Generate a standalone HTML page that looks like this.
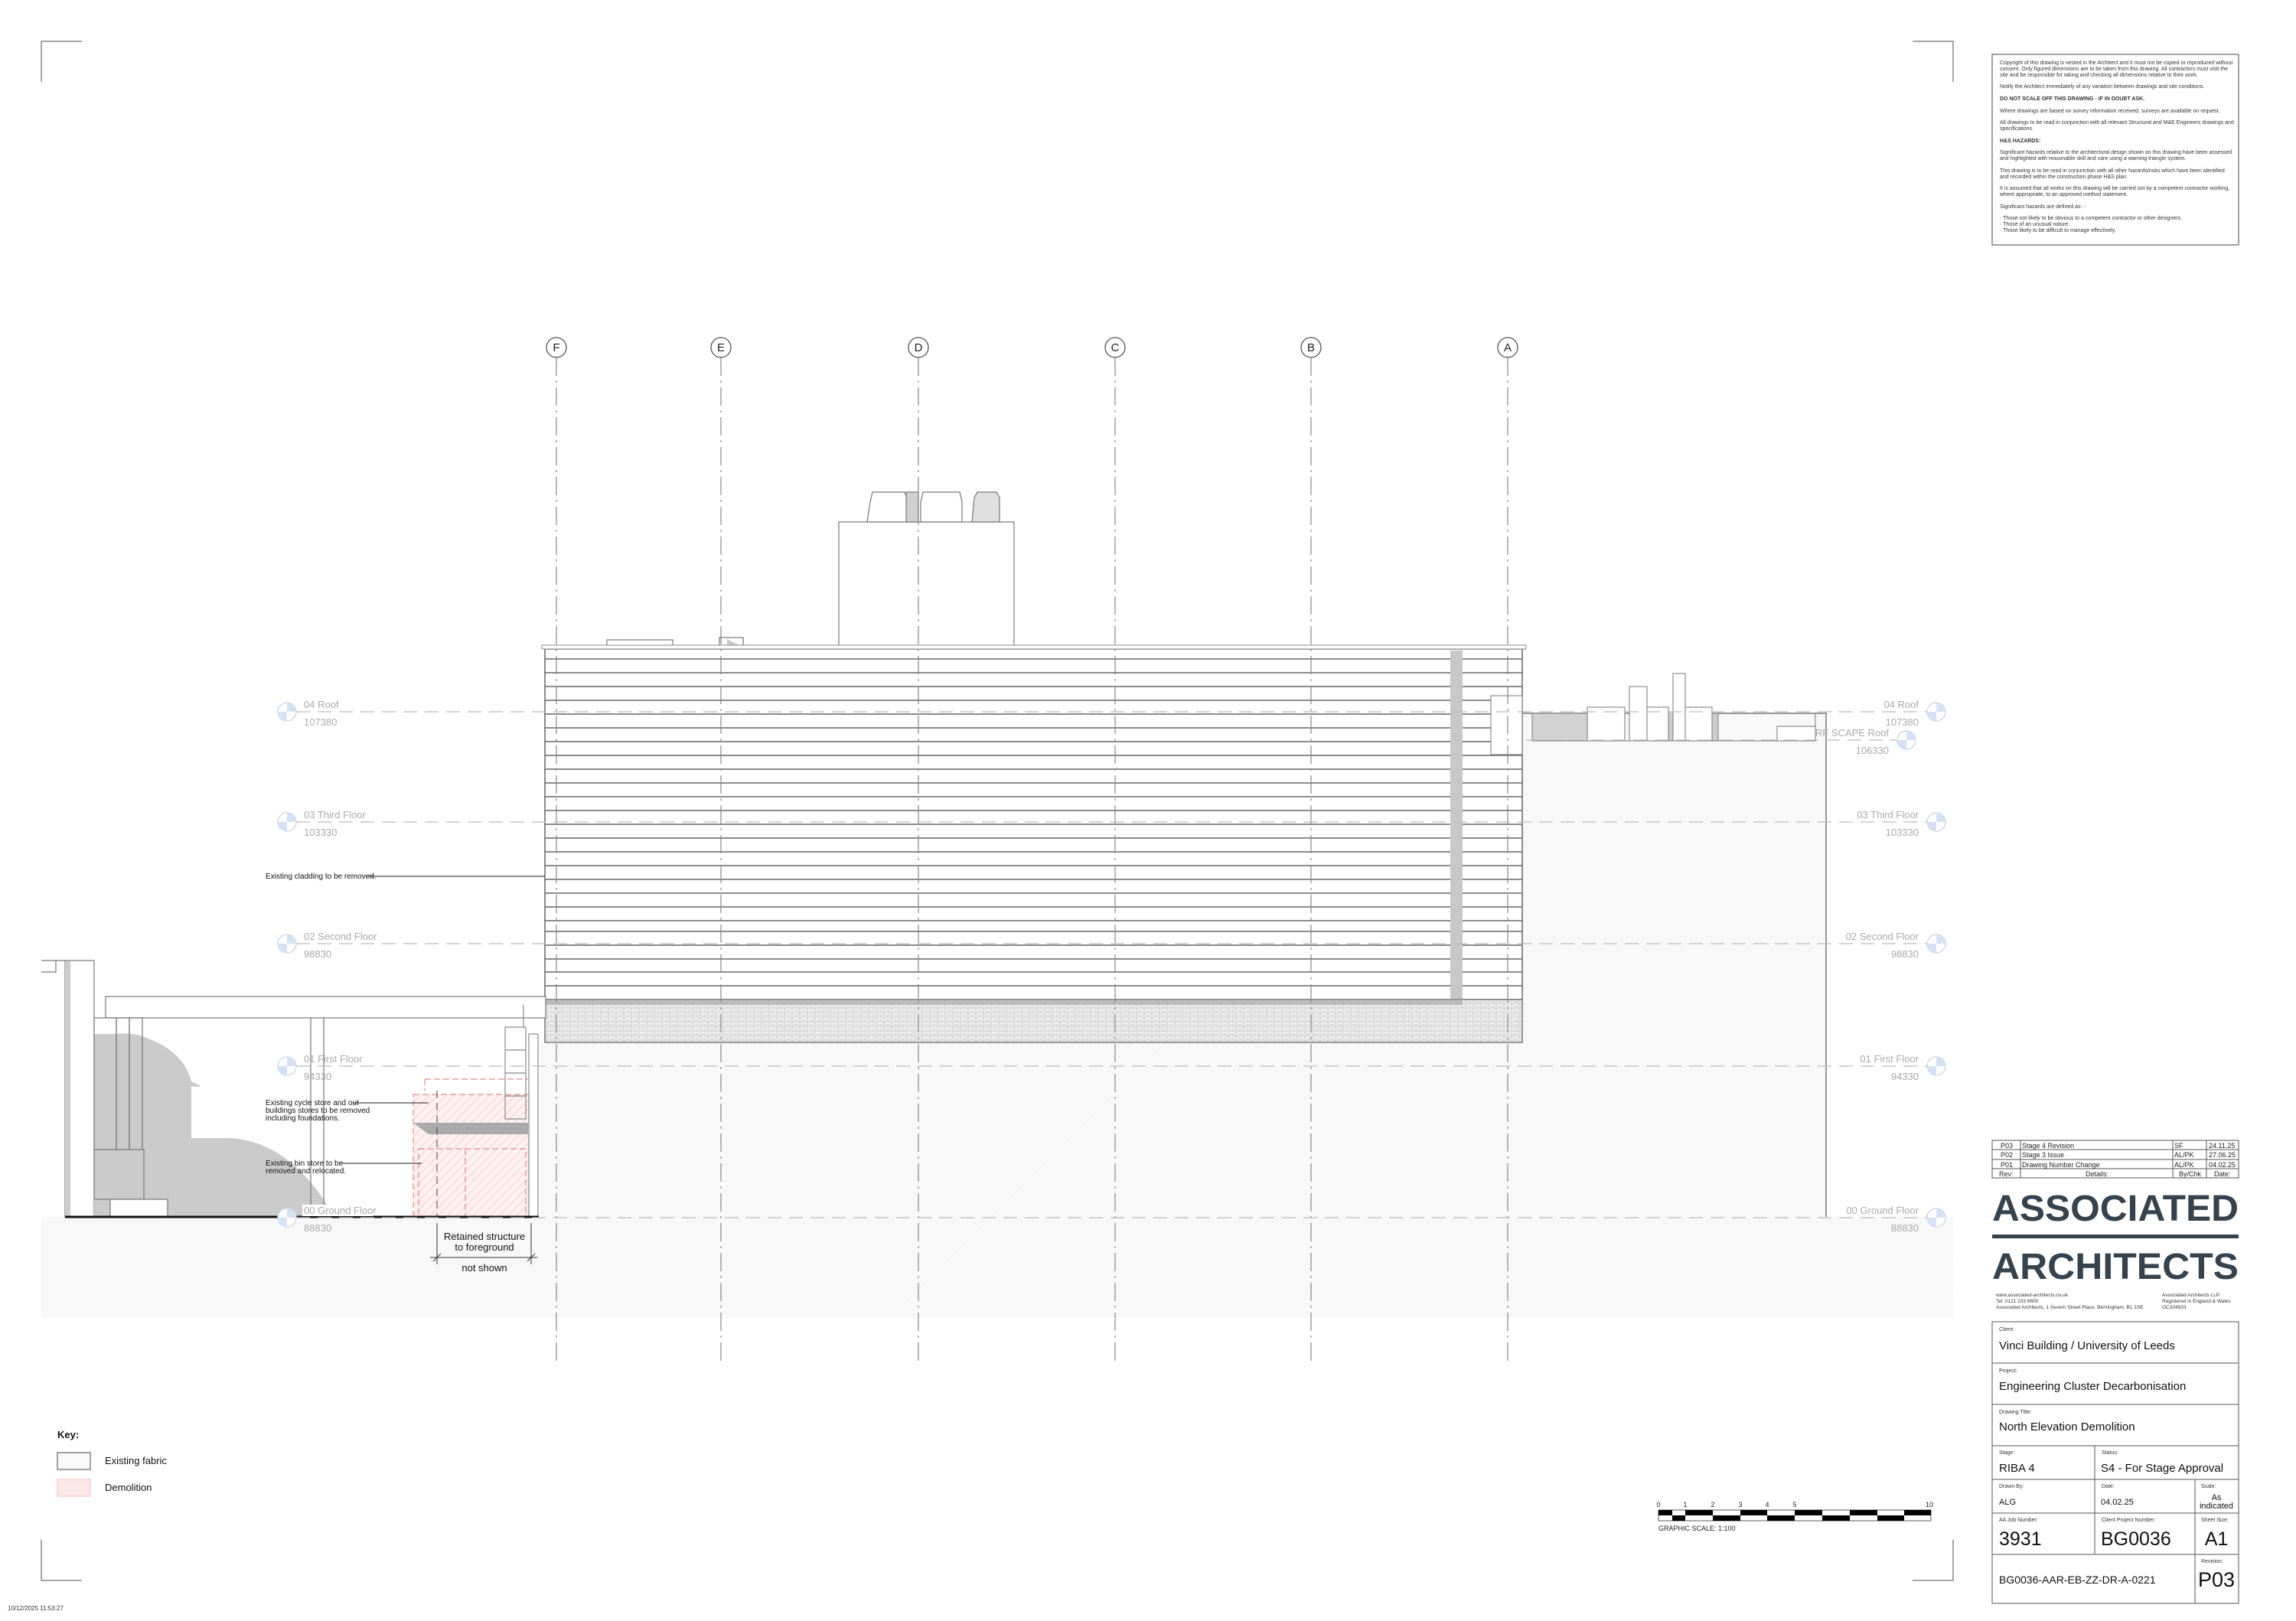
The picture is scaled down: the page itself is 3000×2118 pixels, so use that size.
<!DOCTYPE html>
<html><head><meta charset="utf-8"><style>
html,body{margin:0;padding:0;background:#fff}
svg{display:block}
text{font-family:"Liberation Sans",sans-serif}
.n{font-family:"Liberation Sans Narrow","Liberation Sans",sans-serif}
</style></head><body>
<svg width="3000" height="2118" viewBox="0 0 3000 2118" xmlns="http://www.w3.org/2000/svg">
<defs>
<pattern id="pk" width="8" height="8" patternUnits="userSpaceOnUse" patternTransform="rotate(45)">
<rect width="8" height="8" fill="#fdf1f1"/><line x1="0" y1="0" x2="0" y2="8" stroke="#f2c4c4" stroke-width="1.5"/></pattern>
<pattern id="gh" width="30" height="30" patternUnits="userSpaceOnUse" patternTransform="rotate(45)">
<rect width="30" height="30" fill="#f8f8f8"/><line x1="0" y1="0" x2="0" y2="30" stroke="#f1f1f1" stroke-width="1"/></pattern>
<pattern id="br" width="10" height="6" patternUnits="userSpaceOnUse">
<rect width="10" height="6" fill="#f0f0f0"/><path d="M0 0H10M0 3H10M0 0V3M5 3V6" stroke="#bdbdbd" stroke-width="0.8" fill="none"/></pattern>
<g id="lv"><circle r="12" fill="#fff" stroke="#cfd9ec" stroke-width="1.5"/><path d="M0 0L0 -12A12 12 0 0 1 12 0Z M0 0L0 12A12 12 0 0 1 -12 0Z" fill="#d6e1f4"/></g>
</defs>

<g stroke="#888" stroke-width="1.5" fill="none">
<path d="M54 107V54H107"/><path d="M2499 54H2552V107"/><path d="M54 2012V2065H107"/><path d="M2499 2065H2552V2012"/>
</g>

<rect x="54" y="1590" width="2498" height="132" fill="url(#gh)"/>
<rect x="706" y="1363" width="1680" height="227" fill="url(#gh)"/>
<rect x="1989" y="932" width="397" height="431" fill="url(#gh)"/>
<path d="M1989 932H2386V1590" fill="none" stroke="#777" stroke-width="1.5"/>

<g stroke="#777" stroke-width="1" fill="#fff">
<rect x="2002" y="932" width="72" height="36" fill="#d2d2d2"/>
<rect x="2074" y="924" width="49" height="44"/>
<rect x="2129" y="897" width="23" height="71"/>
<rect x="2152" y="924" width="28" height="44"/>
<rect x="2180" y="930" width="8" height="38" fill="#ccc"/>
<rect x="2186" y="880" width="16" height="88"/>
<rect x="2202" y="924" width="35" height="44"/>
<rect x="2237" y="932" width="8" height="36" fill="#ccc"/>
<rect x="2322" y="949" width="50" height="19"/>
<line x1="2002" y1="968" x2="2372" y2="968"/>
<line x1="2372" y1="932" x2="2372" y2="968"/>
</g>

<g stroke="#777" stroke-width="1.2" fill="#fff">
<rect x="1096" y="682" width="229" height="163"/>
<path d="M1133 682L1137 656L1140 643H1182L1187 656V682Z"/>
<path d="M1184 682V643H1200V682Z" fill="#d0d0d0"/>
<path d="M1203 682V656L1206 643H1254L1257 656V682Z"/>
<path d="M1270 682L1273 650L1277 643H1302L1306 650V682Z" fill="#e0e0e0"/>
<rect x="793" y="836" width="86" height="9"/>
<rect x="940" y="833" width="31" height="12"/>
<path d="M950 835L970 845H950Z" fill="#ccc" stroke="none"/>
</g>

<rect x="712" y="848" width="1277" height="458" fill="#fff" stroke="#666" stroke-width="1.5"/>
<rect x="708" y="843" width="1286" height="5" fill="#fff" stroke="#888" stroke-width="1"/>
<g stroke="#666" stroke-width="1.6">
<line x1="712" y1="861" x2="1989" y2="861"/><line x1="712" y1="879" x2="1989" y2="879"/><line x1="712" y1="897" x2="1989" y2="897"/><line x1="712" y1="915" x2="1989" y2="915"/><line x1="712" y1="933" x2="1989" y2="933"/><line x1="712" y1="951" x2="1989" y2="951"/><line x1="712" y1="969" x2="1989" y2="969"/><line x1="712" y1="987" x2="1989" y2="987"/><line x1="712" y1="1005" x2="1989" y2="1005"/><line x1="712" y1="1023" x2="1989" y2="1023"/><line x1="712" y1="1041" x2="1989" y2="1041"/><line x1="712" y1="1059" x2="1989" y2="1059"/><line x1="712" y1="1077" x2="1989" y2="1077"/><line x1="712" y1="1095" x2="1989" y2="1095"/><line x1="712" y1="1113" x2="1989" y2="1113"/><line x1="712" y1="1131" x2="1989" y2="1131"/><line x1="712" y1="1149" x2="1989" y2="1149"/><line x1="712" y1="1167" x2="1989" y2="1167"/><line x1="712" y1="1185" x2="1989" y2="1185"/><line x1="712" y1="1203" x2="1989" y2="1203"/><line x1="712" y1="1217" x2="1989" y2="1217"/><line x1="712" y1="1235" x2="1989" y2="1235"/><line x1="712" y1="1253" x2="1989" y2="1253"/><line x1="712" y1="1270" x2="1989" y2="1270"/><line x1="712" y1="1288" x2="1989" y2="1288"/>
</g>
<rect x="1895" y="850" width="16" height="456" fill="#c8c8c8"/>
<rect x="1948" y="909" width="41" height="77" fill="#fff" stroke="#777" stroke-width="1"/>
<rect x="712" y="1306" width="1277" height="56" fill="url(#br)" stroke="#777" stroke-width="1.5"/>
<rect x="712" y="1306" width="1199" height="7" fill="#aaa" opacity="0.7"/>

<g stroke="#777" stroke-width="1.2" fill="none">
<path d="M54 1255H85M73 1255V1270H54"/>
</g>
<g stroke="#777" stroke-width="1.2" fill="#fff">
<rect x="85" y="1255" width="38" height="335"/>
<rect x="138" y="1302" width="575" height="28"/>
</g>
<rect x="85" y="1256" width="7" height="334" fill="#ccc"/>
<path d="M123 1351H150Q175 1348 196 1358Q240 1375 250 1413L261 1418V1420H250V1487H299Q380 1490 437 1590H123Z" fill="#cbcbcb"/>
<g stroke="#777" stroke-width="1.2" fill="none">
<rect x="123" y="1330" width="29" height="172"/>
<rect x="152" y="1330" width="17" height="173"/>
<rect x="169" y="1330" width="17" height="173"/>
<rect x="123" y="1502" width="65" height="65" fill="#cbcbcb"/>
<line x1="406" y1="1330" x2="406" y2="1590"/><line x1="423" y1="1330" x2="423" y2="1590"/>
</g>
<rect x="144" y="1567" width="75" height="23" fill="#fff" stroke="#777" stroke-width="1.2"/>
<rect x="540" y="1430" width="154" height="160" fill="url(#pk)"/>
<g stroke="#e58c8c" stroke-width="1.2" fill="none" stroke-dasharray="8 4">
<rect x="540" y="1430" width="154" height="160"/>
<rect x="547" y="1501" width="140" height="89"/>
<line x1="608" y1="1501" x2="608" y2="1590"/>
<path d="M555 1410H690M555 1410V1425"/>
</g>
<path d="M540 1467H690V1482H560Z" fill="#aaa"/>
<line x1="571" y1="1425" x2="571" y2="1590" stroke="#444" stroke-width="1" stroke-dasharray="10 6"/>
<g stroke="#888" stroke-width="1.2" fill="none">
<rect x="660" y="1342" width="27" height="120"/>
<line x1="660" y1="1372" x2="687" y2="1372"/><line x1="660" y1="1402" x2="687" y2="1402"/><line x1="660" y1="1432" x2="687" y2="1432"/>
<line x1="684" y1="1313" x2="684" y2="1342"/>
<rect x="691" y="1351" width="12" height="239" fill="#fff"/>
</g>
<line x1="85" y1="1590" x2="704" y2="1590" stroke="#111" stroke-width="3"/>
<g stroke="#333" stroke-width="1">
<line x1="571" y1="1598" x2="571" y2="1652"/><line x1="694" y1="1598" x2="694" y2="1652"/>
<line x1="562" y1="1643" x2="702" y2="1643"/>
<line x1="566" y1="1648" x2="576" y2="1638"/><line x1="689" y1="1648" x2="699" y2="1638"/>
</g>
<text x="633" y="1620" font-size="13" text-anchor="middle" class="n" fill="#111">Retained structure</text>
<text x="633" y="1634" font-size="13" text-anchor="middle" class="n" fill="#111">to foreground</text>
<text x="633" y="1661" font-size="13" text-anchor="middle" class="n" fill="#111">not shown</text>

<g class="n" font-size="10" fill="#111">
<text x="347" y="1444">Existing cycle store and out</text>
<text x="347" y="1454">buildings stores to be removed</text>
<text x="347" y="1464">including foundations.</text>
<text x="347" y="1523">Existing bin store to be</text>
<text x="347" y="1533">removed and relocated.</text>
<text x="347" y="1148">Existing cladding to be removed.</text>
</g>
<g stroke="#222" stroke-width="1">
<line x1="462" y1="1441" x2="560" y2="1441"/><line x1="444" y1="1520" x2="551" y2="1520"/><line x1="478" y1="1145" x2="712" y2="1145"/>
</g>

<g stroke="#888" stroke-width="1.2" stroke-dasharray="24 6 3 6" fill="none">
<line x1="727" y1="467" x2="727" y2="1781"/><line x1="942" y1="467" x2="942" y2="1781"/><line x1="1200" y1="467" x2="1200" y2="1781"/><line x1="1457" y1="467" x2="1457" y2="1781"/><line x1="1713" y1="467" x2="1713" y2="1781"/><line x1="1970" y1="467" x2="1970" y2="1781"/>
</g>
<g stroke="#555" stroke-width="1.3" fill="#fff">
<circle cx="727" cy="454" r="13"/><circle cx="942" cy="454" r="13"/><circle cx="1200" cy="454" r="13"/><circle cx="1457" cy="454" r="13"/><circle cx="1713" cy="454" r="13"/><circle cx="1970" cy="454" r="13"/>
</g>
<g font-size="15" text-anchor="middle" fill="#222">
<text x="727" y="459">F</text><text x="942" y="459">E</text><text x="1200" y="459">D</text><text x="1457" y="459">C</text><text x="1713" y="459">B</text><text x="1970" y="459">A</text>
</g>

<g stroke="#bbb" stroke-width="1.2" stroke-dasharray="18 10">
<line x1="387" y1="930" x2="2518" y2="930"/><line x1="387" y1="1074" x2="2518" y2="1074"/><line x1="387" y1="1233" x2="2518" y2="1233"/><line x1="387" y1="1393" x2="2518" y2="1393"/><line x1="387" y1="1591" x2="2518" y2="1591"/><line x1="1994" y1="967" x2="2479" y2="967"/>
</g>
<rect x="395" y="1574" width="92" height="15" fill="#fff"/>
<use href="#lv" x="375" y="930"/><use href="#lv" x="375" y="1074"/><use href="#lv" x="375" y="1233"/><use href="#lv" x="375" y="1393"/><use href="#lv" x="375" y="1591"/>
<use href="#lv" x="2530" y="930"/><use href="#lv" x="2530" y="1074"/><use href="#lv" x="2530" y="1233"/><use href="#lv" x="2530" y="1393"/><use href="#lv" x="2530" y="1591"/><use href="#lv" x="2491" y="967"/>
<g class="n" font-size="13" fill="#aaa">
<text x="397" y="925">04 Roof</text><text x="397" y="948">107380</text>
<text x="397" y="1069">03 Third Floor</text><text x="397" y="1092">103330</text>
<text x="397" y="1228">02 Second Floor</text><text x="397" y="1251">98830</text>
<text x="397" y="1388">01 First Floor</text><text x="397" y="1411">94330</text>
<text x="397" y="1586">00 Ground Floor</text><text x="397" y="1609">88830</text>
</g>
<g class="n" font-size="13" fill="#aaa" text-anchor="end">
<text x="2507" y="925">04 Roof</text><text x="2507" y="948">107380</text>
<text x="2507" y="1069">03 Third Floor</text><text x="2507" y="1092">103330</text>
<text x="2507" y="1228">02 Second Floor</text><text x="2507" y="1251">98830</text>
<text x="2507" y="1388">01 First Floor</text><text x="2507" y="1411">94330</text>
<text x="2507" y="1586">00 Ground Floor</text><text x="2507" y="1609">88830</text>
<text x="2468" y="962">RF SCAPE Roof</text><text x="2468" y="985">106330</text>
</g>

<text x="75" y="1879" font-size="13" font-weight="bold" fill="#111">Key:</text>
<rect x="75" y="1898" width="43" height="22" fill="#fafafa" stroke="#666" stroke-width="1.2"/>
<text x="137" y="1913" font-size="13" fill="#111">Existing fabric</text>
<rect x="75" y="1933" width="43" height="22" fill="#fbe9e9" stroke="#f0c0c0" stroke-width="1"/>
<text x="137" y="1948" font-size="13" fill="#111">Demolition</text>
<text x="10" y="2104" font-size="8" fill="#333">10/12/2025 11:53:27</text>

<g>
<rect x="2167" y="1973" width="356" height="14" fill="#fff" stroke="#333" stroke-width="0.8"/>
<g fill="#000">
<rect x="2167" y="1973" width="18" height="7"/><rect x="2202" y="1973" width="36" height="7"/><rect x="2274" y="1973" width="35" height="7"/><rect x="2345" y="1973" width="36" height="7"/><rect x="2417" y="1973" width="36" height="7"/><rect x="2488" y="1973" width="35" height="7"/>
<rect x="2185" y="1980" width="17" height="7"/><rect x="2238" y="1980" width="36" height="7"/><rect x="2309" y="1980" width="36" height="7"/><rect x="2381" y="1980" width="36" height="7"/><rect x="2453" y="1980" width="35" height="7"/>
</g>
<g class="n" font-size="9" fill="#222" text-anchor="middle">
<text x="2167" y="1969">0</text><text x="2202" y="1969">1</text><text x="2238" y="1969">2</text><text x="2274" y="1969">3</text><text x="2309" y="1969">4</text><text x="2345" y="1969">5</text><text x="2521" y="1969">10</text>
</g>
<text x="2167" y="2000" class="n" font-size="9" fill="#222">GRAPHIC SCALE: 1:100</text>
</g>

<!-- notes box -->
<rect x="2603" y="71" width="322" height="249" fill="#fff" stroke="#666" stroke-width="1.2"/>
<g font-size="7" fill="#333">
<text x="2613" y="84">Copyright of this drawing is vested in the Architect and it must not be copied or reproduced without</text>
<text x="2613" y="92">consent. Only figured dimensions are to be taken from this drawing.  All contractors must visit the</text>
<text x="2613" y="100">site and be responsible for taking and checking all dimensions relative to their work.</text>
<text x="2613" y="115">Notify the Architect immediately of any variation between drawings and site conditions.</text>
<text x="2613" y="131" font-weight="bold">DO NOT SCALE OFF THIS DRAWING - IF IN DOUBT ASK.</text>
<text x="2613" y="147">Where drawings are based on survey information received, surveys are available on request.</text>
<text x="2613" y="162">All drawings to be read in conjunction with all relevant Structural and M&amp;E Engineers drawings and</text>
<text x="2613" y="170">specifications.</text>
<text x="2613" y="186" font-weight="bold">H&amp;S HAZARDS:</text>
<text x="2613" y="201">Significant hazards relative to the architectural design shown on this drawing have been assessed</text>
<text x="2613" y="209">and highlighted with reasonable skill and care using a warning triangle system.</text>
<text x="2613" y="225">This drawing is to be read in conjunction with all other hazards/risks which have been identified</text>
<text x="2613" y="233">and recorded within the construction phase H&amp;S plan.</text>
<text x="2613" y="248">It is assumed that all works on this drawing will be carried out by a competent contractor working,</text>
<text x="2613" y="256">where appropriate, to an approved method statement.</text>
<text x="2613" y="272">Significant hazards are defined as: -</text>
<text x="2613" y="287">· Those not likely to be obvious to a competent contractor or other designers.</text>
<text x="2613" y="295">· Those of an unusual nature.</text>
<text x="2613" y="303">· Those likely to be difficult to manage effectively.</text>
</g>

<!-- revision table -->
<g stroke="#555" stroke-width="1" fill="none">
<rect x="2603" y="1490" width="322" height="49"/>
<line x1="2603" y1="1502" x2="2925" y2="1502"/><line x1="2603" y1="1515" x2="2925" y2="1515"/><line x1="2603" y1="1527" x2="2925" y2="1527"/>
<line x1="2640" y1="1490" x2="2640" y2="1539"/><line x1="2839" y1="1490" x2="2839" y2="1539"/><line x1="2883" y1="1490" x2="2883" y2="1539"/>
</g>
<g font-size="9" fill="#222">
<text x="2614" y="1500">P03</text><text x="2642" y="1500">Stage 4 Revision</text><text x="2841" y="1500">SF</text><text x="2886" y="1500">24.11.25</text>
<text x="2614" y="1512">P02</text><text x="2642" y="1512">Stage 3 Issue</text><text x="2841" y="1512">AL/PK</text><text x="2886" y="1512">27.06.25</text>
<text x="2614" y="1525">P01</text><text x="2642" y="1525">Drawing Number Change</text><text x="2841" y="1525">AL/PK</text><text x="2886" y="1525">04.02.25</text>
<text x="2612" y="1537">Rev:</text><text x="2740" y="1537" text-anchor="middle">Details:</text><text x="2847" y="1537">By/Chk</text><text x="2893" y="1537">Date:</text>
</g>

<!-- logo -->
<text x="2603" y="1595" font-size="48" font-weight="bold" fill="#36434d" textLength="322" lengthAdjust="spacingAndGlyphs">ASSOCIATED</text>
<rect x="2603" y="1613" width="322" height="5" fill="#36434d"/>
<text x="2603" y="1671" font-size="48" font-weight="bold" fill="#36434d" textLength="322" lengthAdjust="spacingAndGlyphs">ARCHITECTS</text>
<g font-size="6.5" fill="#333">
<text x="2608" y="1694">www.associated-architects.co.uk</text>
<text x="2608" y="1702">Tel: 0121 233 6600</text>
<text x="2608" y="1710">Associated Architects, 1 Severn Street Place, Birmingham,  B1 1SE</text>
<text x="2825" y="1694">Associated Architects LLP</text>
<text x="2825" y="1702">Registered in England &amp; Wales</text>
<text x="2825" y="1710">OC304503</text>
</g>

<!-- title block -->
<g stroke="#555" stroke-width="1" fill="none">
<rect x="2603" y="1727" width="322" height="368"/>
<line x1="2603" y1="1781" x2="2925" y2="1781"/><line x1="2603" y1="1835" x2="2925" y2="1835"/><line x1="2603" y1="1889" x2="2925" y2="1889"/><line x1="2603" y1="1933" x2="2925" y2="1933"/><line x1="2603" y1="1977" x2="2925" y2="1977"/><line x1="2603" y1="2031" x2="2925" y2="2031"/>
<line x1="2737" y1="1889" x2="2737" y2="2031"/><line x1="2868" y1="1933" x2="2868" y2="2095"/>
</g>
<g font-size="7" fill="#333">
<text x="2612" y="1739">Client:</text><text x="2612" y="1793">Project:</text><text x="2612" y="1847">Drawing Title:</text>
<text x="2612" y="1900">Stage:</text><text x="2746" y="1900">Status:</text>
<text x="2612" y="1944">Drawn By:</text><text x="2746" y="1944">Date:</text><text x="2876" y="1944">Scale:</text>
<text x="2612" y="1988">AA Job Number:</text><text x="2746" y="1988">Client Project Number:</text><text x="2876" y="1988">Sheet Size:</text>
<text x="2876" y="2042">Revision:</text>
</g>
<g fill="#111">
<text x="2612" y="1763" font-size="15">Vinci Building / University of Leeds</text>
<text x="2612" y="1816" font-size="15">Engineering Cluster Decarbonisation</text>
<text x="2612" y="1869" font-size="15">North Elevation Demolition</text>
<text x="2612" y="1923" font-size="15">RIBA 4</text>
<text x="2745" y="1923" font-size="15">S4 - For Stage Approval</text>
<text x="2612" y="1966" font-size="11">ALG</text>
<text x="2745" y="1966" font-size="11">04.02.25</text>
<text x="2896" y="1960" font-size="11" text-anchor="middle">As</text>
<text x="2896" y="1971" font-size="11" text-anchor="middle">indicated</text>
<text x="2612" y="2019" font-size="25">3931</text>
<text x="2745" y="2019" font-size="25">BG0036</text>
<text x="2896" y="2019" font-size="25" text-anchor="middle">A1</text>
<text x="2612" y="2069" font-size="14">BG0036-AAR-EB-ZZ-DR-A-0221</text>
<text x="2896" y="2073" font-size="27" text-anchor="middle">P03</text>
</g>
</svg>
</body></html>
